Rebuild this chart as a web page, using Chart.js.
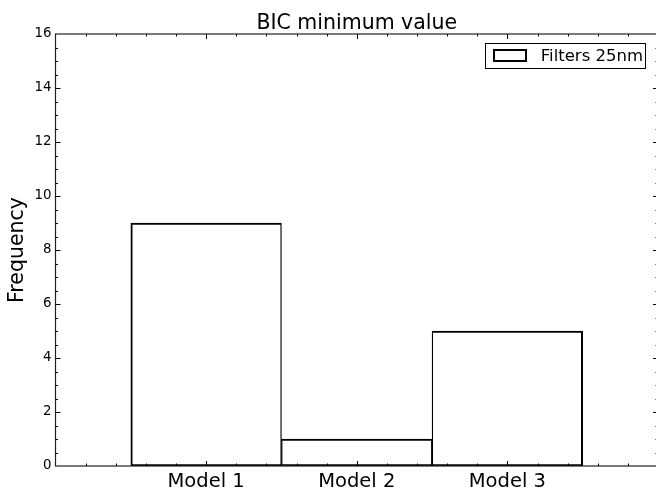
<!DOCTYPE html>
<html>
<head>
<meta charset="utf-8">
<script src="https://cdn.jsdelivr.net/npm/chart.js@4.4.0/dist/chart.umd.min.js"></script>
<style>
html, body { margin: 0; padding: 0; background: #fff; overflow: hidden; }
#wrap { width: 660px; height: 488px; }
</style>
</head>
<body>
<div id="wrap"><canvas id="chart"></canvas></div>
<script>
// data
var models = ['Model 1', 'Model 2', 'Model 3'];
var positions = [1, 2, 3];
var counts = [9, 1, 5];
var yTickValues = [0, 2, 4, 6, 8, 10, 12, 14, 16];
var seriesLabel = 'Filters 25nm';
var chartTitle = 'BIC minimum value';

var FONT = "'DejaVu Sans', sans-serif";

var points = positions.map(function(p, i) { return { x: p, y: counts[i] }; });

// matplotlib style frame with inward ticks on all four sides, title over the axes, boxed legend
var framePlugin = {
    id: 'frame',
    afterDraw: function(chart) {
        var ctx = chart.ctx;
        var a = chart.chartArea;
        var xs = chart.scales.x, ys = chart.scales.y;
        ctx.save();
        ctx.strokeStyle = '#222';
        ctx.lineWidth = 1.2;
        ctx.strokeRect(a.left, a.top, a.right - a.left, a.bottom - a.top);

        ctx.lineWidth = 1;
        ctx.strokeStyle = '#000';
        ctx.beginPath();
        // x ticks: major at categories, minor every 0.2
        for (var k = 1; k < 20; k++) {
            var v = k / 5;
            var px = Math.round(xs.getPixelForValue(v)) + 0.5;
            var len = (k % 5 === 0) ? 5 : 2.5;
            ctx.moveTo(px, a.bottom); ctx.lineTo(px, a.bottom - len);
            ctx.moveTo(px, a.top); ctx.lineTo(px, a.top + len);
        }
        // y ticks: major every 2, minor every 0.5
        for (var j = 1; j < 32; j++) {
            var yv = j / 2;
            var py = Math.round(ys.getPixelForValue(yv)) + 0.5;
            var ylen = (j % 4 === 0) ? 5 : 2.5;
            ctx.moveTo(a.left, py); ctx.lineTo(a.left + ylen, py);
            ctx.moveTo(a.right, py); ctx.lineTo(a.right - ylen, py);
        }
        ctx.stroke();

        // title centred over the axes
        ctx.fillStyle = '#000';
        ctx.font = '20.5px ' + FONT;
        ctx.textAlign = 'center';
        ctx.textBaseline = 'alphabetic';
        ctx.fillText(chartTitle, (a.left + a.right) / 2, 28.5);

        // legend box, top right inside the axes
        ctx.font = '16.5px ' + FONT;
        var tw = ctx.measureText(seriesLabel).width;
        var boxW = 8 + 33 + 15 + tw + 2;
        var boxH = 25;
        var bx = a.right - 13 - boxW;
        var by = a.top + 9;
        ctx.fillStyle = '#fff';
        ctx.fillRect(bx, by, boxW, boxH);
        ctx.strokeStyle = '#000';
        ctx.lineWidth = 1;
        ctx.strokeRect(Math.round(bx) + 0.5, Math.round(by) + 0.5, Math.round(boxW), boxH);
        ctx.lineWidth = 2;
        ctx.strokeRect(Math.round(bx) + 9, by + 7, 32, 11);
        ctx.fillStyle = '#000';
        ctx.textBaseline = 'middle';
        ctx.textAlign = 'left';
        ctx.fillText(seriesLabel, bx + 8 + 33 + 15, by + boxH / 2 + 1);
        ctx.restore();
    }
};

var lastIndex = counts.length - 1;

new Chart(document.getElementById('chart'), {
    type: 'bar',
    data: {
        datasets: [{
            label: seriesLabel,
            data: points,
            backgroundColor: '#ffffff',
            borderColor: '#000000',
            borderWidth: function(c) {
                return {
                    top: 2,
                    bottom: 2,
                    left: c.dataIndex === 0 ? 2 : 1.3,
                    right: c.dataIndex === lastIndex ? 2 : 1.3
                };
            },
            borderSkipped: false,
            barPercentage: 1,
            categoryPercentage: 1
        }]
    },
    options: {
        responsive: true,
        maintainAspectRatio: false,
        animation: false,
        layout: { padding: { left: 0, right: 2, top: 34, bottom: 0 } },
        plugins: {
            legend: { display: false },
            tooltip: { enabled: false },
            title: { display: false }
        },
        scales: {
            x: {
                type: 'linear',
                min: 0,
                max: 4,
                offset: false,
                grid: { display: false, drawTicks: false },
                border: { display: false },
                afterBuildTicks: function(s) {
                    s.ticks = positions.map(function(p) { return { value: p }; });
                },
                afterFit: function(s) { s.height = 22; },
                ticks: {
                    color: '#000',
                    padding: 4,
                    maxRotation: 0,
                    autoSkip: false,
                    font: { family: FONT, size: 19.5 },
                    callback: function(v) {
                        var i = positions.indexOf(v);
                        return i >= 0 ? models[i] : '';
                    }
                }
            },
            y: {
                min: 0,
                max: 16,
                grid: { display: false, drawTicks: false },
                border: { display: false },
                afterBuildTicks: function(s) {
                    s.ticks = yTickValues.map(function(v) { return { value: v }; });
                },
                afterFit: function(s) { s.width = 55.5; },
                title: {
                    display: true,
                    text: 'Frequency',
                    color: '#000',
                    font: { family: FONT, size: 20.5 },
                    padding: { top: 5, bottom: 0 }
                },
                ticks: {
                    color: '#000',
                    padding: 4,
                    font: { family: FONT, size: 13.4 }
                }
            }
        }
    },
    plugins: [framePlugin]
});
</script>
</body>
</html>
